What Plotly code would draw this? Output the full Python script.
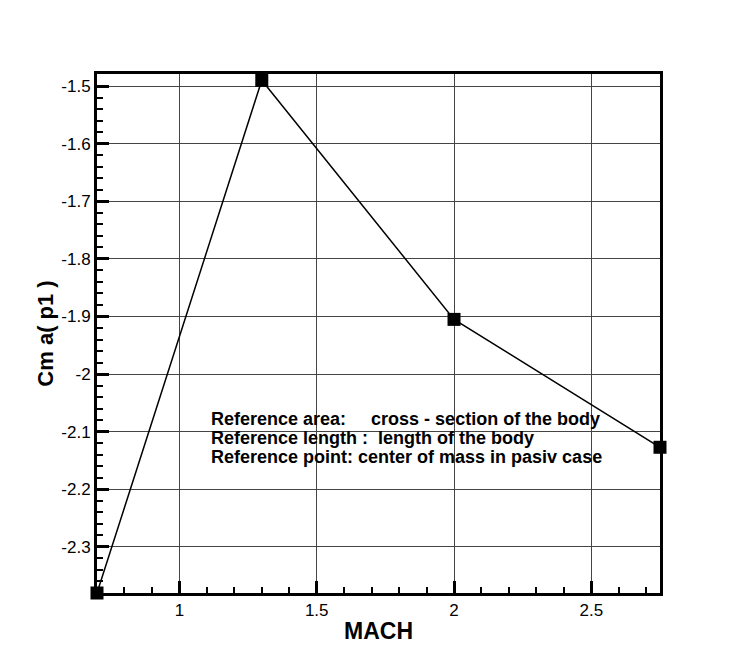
import plotly.graph_objects as go

mach = [0.7, 1.3, 2.0, 2.75]
cm = [-2.38, -1.49, -1.905, -2.127]

x_ticks = [1, 1.5, 2, 2.5]
x_labels = ["1", "1.5", "2", "2.5"]
y_ticks = [-1.5, -1.6, -1.7, -1.8, -1.9, -2.0, -2.1, -2.2, -2.3]
y_labels = ["-1.5", "-1.6", "-1.7", "-1.8", "-1.9", "-2", "-2.1", "-2.2", "-2.3"]

note_lines = [
    "Reference area:     cross - section of the body",
    "Reference length :  length of the body",
    "Reference point: center of mass in pasiv case",
]

fig = go.Figure()
fig.add_trace(go.Scatter(
    x=mach, y=cm, mode="lines+markers",
    line=dict(color="black", width=1.5),
    marker=dict(symbol="square", size=13, color="black"),
    cliponaxis=False, showlegend=False,
))

FONT = "Liberation Sans, Arial, sans-serif"

axis_common = dict(
    showline=True, linecolor="black", linewidth=3, mirror=True,
    showgrid=True, gridcolor="#444444", gridwidth=1,
    ticks="inside", ticklen=12, tickwidth=3, tickcolor="black",
    tickfont=dict(family=FONT, size=17, color="black"),
    zeroline=False,
)

fig.update_xaxes(
    range=[0.7, 2.75], tickvals=x_ticks, ticktext=x_labels,
    minor=dict(dtick=0.1, tick0=0, ticks="inside", ticklen=6, tickwidth=1.5,
               tickcolor="black", showgrid=False),
    title=dict(text="<b>MACH</b>", font=dict(family=FONT, size=23, color="black"), standoff=4),
    **axis_common,
)
fig.update_yaxes(
    range=[-2.38, -1.479], tickvals=y_ticks, ticktext=y_labels,
    minor=dict(dtick=0.02, tick0=0, ticks="inside", ticklen=6, tickwidth=1.5,
               tickcolor="black", showgrid=False),
    title=dict(text="<b>Cm a( p1 )</b>", font=dict(family=FONT, size=22, color="black"), standoff=2),
    **axis_common,
)

plot_top, plot_h = 74, 519
for i, line in enumerate(note_lines):
    ypx = 419 + 19 * i
    fig.add_annotation(
        xref="paper", yref="paper", x=(209 - 97) / 563, y=(plot_top + plot_h - ypx) / plot_h,
        xanchor="left", yanchor="middle", align="left", showarrow=False,
        text="<b>" + line.replace("  ", "&nbsp;&nbsp;") + "</b>",
        font=dict(family=FONT, size=18, color="black"),
    )

fig.update_layout(
    width=750, height=667,
    margin=dict(l=97, r=90, t=74, b=74),
    plot_bgcolor="white", paper_bgcolor="white",
)

fig.write_html("out.html")
